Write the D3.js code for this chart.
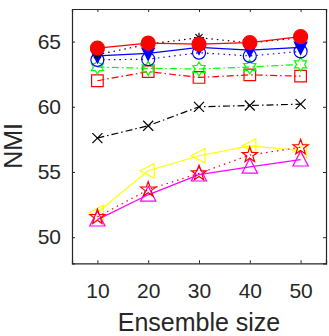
<!DOCTYPE html>
<meta charset="utf-8">
<style>

body {
  margin: 0;
  background: #fff;
}

.axis text {
  font: 21px "Liberation Sans", Arial, sans-serif;
  fill: #262626;
}

.axis path,
.axis line {
  stroke: #262626;
}

.label {
  font: 25px "Liberation Sans", Arial, sans-serif;
  fill: #262626;
  text-anchor: middle;
}

</style>
<svg width="329" height="336"></svg>
<script src="https://cdn.jsdelivr.net/npm/d3@7"></script>
<script>

// ensemble sizes on the x axis
var sizes = [10, 20, 30, 40, 50];

var xTicks = [10, 20, 30, 40, 50],
    yTicks = [50, 55, 60, 65];

// one array of NMI values per method
var blackCross   = [57.6, 58.55, 60.0, 60.1, 60.2],
    redSquare    = [62.0, 62.7, 62.25, 62.45, 62.35],
    greenHex     = [63.05, 62.95, 62.9, 63.05, 63.25],
    blueCircle   = [63.6, 63.65, 64.15, 63.9, 64.25],
    blueTri      = [63.9, 64.1, 64.55, 64.35, 64.55],
    blackStar    = [64.0, 64.8, 65.3, 64.9, 65.3],
    redDot       = [64.5, 64.88, 64.8, 64.92, 65.38],
    yellowTri    = [51.9, 55.1, 56.25, 57.0, 56.65],
    magentaTri   = [51.35, 53.25, 54.8, 55.4, 55.95],
    redPentagram = [51.55, 53.65, 54.9, 56.3, 56.9];

var svg = d3.select("svg");

var plotLeft = 72, plotRight = 326, plotTop = 9, plotBottom = 263.3;

var x = d3.scaleLinear().domain([5, 55]).range([plotLeft, plotRight]);
var y = d3.scaleLinear().domain([48, 67.5]).range([plotBottom, plotTop]);

// marker shapes, the size argument is used as a radius
function poly(ctx, pts) {
  pts.forEach(function(p, i) { i ? ctx.lineTo(p[0], p[1]) : ctx.moveTo(p[0], p[1]); });
  ctx.closePath();
}

function starPath(ctx, n, ro, ri) {
  var pts = [];
  for (var k = 0; k < 2 * n; k++) {
    var a = -Math.PI / 2 + k * Math.PI / n,
        rr = k % 2 ? ri : ro;
    pts.push([rr * Math.cos(a), rr * Math.sin(a)]);
  }
  poly(ctx, pts);
}

var shapes = {
  circle: { draw: function(ctx, r) { ctx.moveTo(r, 0); ctx.arc(0, 0, r, 0, 2 * Math.PI); } },
  square: { draw: function(ctx, r) { ctx.rect(-r, -r, 2 * r, 2 * r); } },
  triUp: { draw: function(ctx, r) { poly(ctx, [[0, -r], [r * 0.9, r * 0.75], [-r * 0.9, r * 0.75]]); } },
  triDown: { draw: function(ctx, r) { poly(ctx, [[0, r], [r * 0.9, -r * 0.75], [-r * 0.9, -r * 0.75]]); } },
  triLeft: { draw: function(ctx, r) { poly(ctx, [[-r, 0], [r * 0.75, -r * 0.9], [r * 0.75, r * 0.9]]); } },
  cross: { draw: function(ctx, r) { ctx.moveTo(-r, -r); ctx.lineTo(r, r); ctx.moveTo(-r, r); ctx.lineTo(r, -r); } },
  asterisk: { draw: function(ctx, r) {
    for (var k = 0; k < 4; k++) {
      var a = k * Math.PI / 4;
      ctx.moveTo(-r * Math.cos(a), -r * Math.sin(a));
      ctx.lineTo(r * Math.cos(a), r * Math.sin(a));
    }
  } },
  star: { draw: function(ctx, r) { starPath(ctx, 5, r, r * 0.4); } },
  hexagram: { draw: function(ctx, r) { starPath(ctx, 6, r, r * 0.58); } }
};

// drawing order matters: later series sit on top
var series = [
  {values: blackCross, color: "#000", dash: "7,3,1.5,3", shape: "cross", r: 5, fill: "none"},
  {values: redSquare, color: "#f00", dash: "7,3,1.5,3", shape: "square", r: 5.8, fill: "none"},
  {values: greenHex, color: "#0f0", dash: "7,3,1.5,3", shape: "hexagram", r: 7, fill: "none"},
  {values: blueCircle, color: "#00f", dash: "1.5,4", shape: "circle", r: 6.5, fill: "none"},
  {values: blueTri, color: "#00f", dash: null, shape: "triDown", r: 7, fill: "#00f"},
  {values: blackStar, color: "#000", dash: "1.5,4", shape: "asterisk", r: 5, fill: "none"},
  {values: redDot, color: "#f00", dash: null, shape: "circle", r: 7, fill: "#f00"},
  {values: yellowTri, color: "#ff0", dash: null, shape: "triLeft", r: 8, fill: "none"},
  {values: magentaTri, color: "#f0f", dash: null, shape: "triUp", r: 8.5, fill: "none"},
  {values: redPentagram, color: "#f00", dash: "1.5,4", shape: "star", r: 8, fill: "none"}
];

var line = d3.line()
    .x(function(d, i) { return x(sizes[i]); })
    .y(function(d) { return y(d); });

var plot = svg.append("g");

series.forEach(function(s) {
  var g = plot.append("g");

  g.append("path")
      .attr("d", line(s.values))
      .attr("fill", "none")
      .attr("stroke", s.color)
      .attr("stroke-width", 1.2)
      .attr("stroke-dasharray", s.dash);

  g.selectAll(".mark")
      .data(s.values)
    .enter().append("path")
      .attr("class", "mark")
      .attr("transform", function(d, i) { return "translate(" + x(sizes[i]) + "," + y(d) + ")"; })
      .attr("d", d3.symbol().type(shapes[s.shape]).size(s.r))
      .attr("fill", s.fill)
      .attr("stroke", s.color)
      .attr("stroke-width", 1.2);
});

// axes, box on with inward ticks on all sides
svg.append("g")
    .attr("class", "axis")
    .attr("transform", "translate(0," + plotBottom + ")")
    .call(d3.axisBottom(x).tickValues(xTicks).tickSize(-3).tickPadding(20));

svg.append("g")
    .attr("class", "axis")
    .attr("transform", "translate(" + plotLeft + ",0)")
    .call(d3.axisLeft(y).tickValues(yTicks).tickSize(-3).tickPadding(11));

svg.append("g")
    .attr("class", "axis")
    .attr("transform", "translate(0," + plotTop + ")")
    .call(d3.axisTop(x).tickValues(xTicks).tickSize(-3).tickFormat(""));

svg.append("g")
    .attr("class", "axis")
    .attr("transform", "translate(" + plotRight + ",0)")
    .call(d3.axisRight(y).tickValues(yTicks).tickSize(-3).tickFormat(""));

svg.selectAll(".axis .domain").attr("stroke-width", 1.2);

svg.append("text")
    .attr("class", "label")
    .attr("x", (plotLeft + plotRight) / 2)
    .attr("y", 331)
    .text("Ensemble size");

svg.append("text")
    .attr("class", "label")
    .attr("transform", "translate(22," + y(57) + ") rotate(-90)")
    .text("NMI");

</script>
